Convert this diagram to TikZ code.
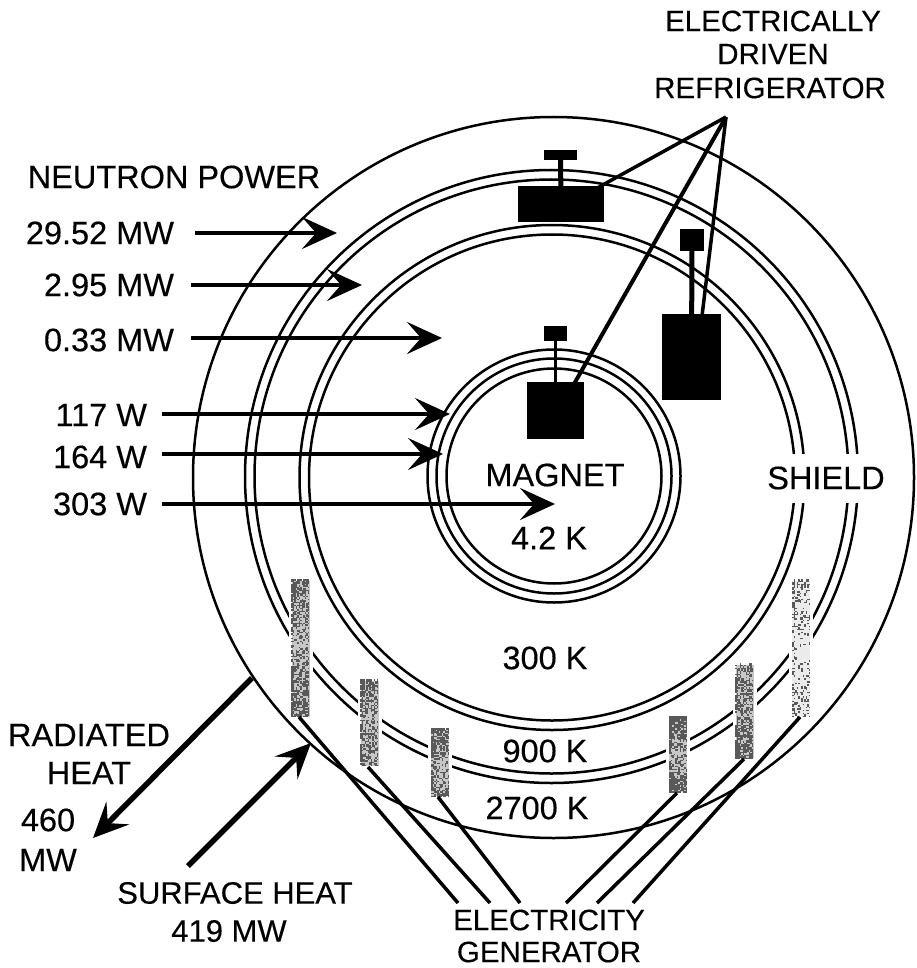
\documentclass[tikz,border=0pt]{standalone}
\usepackage{fontspec}
\setmainfont[FakeBold=0.3]{Liberation Sans}
\usetikzlibrary{arrows.meta}
\tikzset{
  ring/.style={line width=2.5pt,draw=black},
  lab/.style={inner sep=0pt,outer sep=0pt,font=\fontsize{32.5}{36}\selectfont,text=black},
  smalllab/.style={lab,font=\fontsize{29.5}{36}\selectfont},
  midlab/.style={lab,font=\fontsize{31}{36}\selectfont},
  solid box/.style={fill=black,draw=none,inner sep=0pt,outer sep=0pt},
  stem/.style={line width=5pt},
  thin stem/.style={line width=3.5pt},
  lead/.style={line width=3.5pt},
  genline/.style={line width=3.5pt},
  bar/.style={draw=white,line width=3pt,fill=black!22,inner sep=0pt,outer sep=0pt,minimum width=21pt},
  flow/.style={line width=4.2pt,-{Stealth[length=35pt,width=32pt,inset=14pt]}},
}
% halftone texture: x0,y0,width,height,dark top,dark middle,dark bottom
\newcommand{\halftone}[7]{%
  \pgfmathtruncatemacro{\nx}{int(#3/1.5)-1}%
  \pgfmathtruncatemacro{\ny}{int(#4/1.5)-1}%
  \foreach \ci in {0,...,\nx}{%
    \foreach \cj in {0,...,\ny}{%
      \pgfmathsetmacro{\tt}{\cj/\ny}%
      \pgfmathsetmacro{\pp}{(\tt<0.5?(#5+(#6-#5)*2*\tt):(#6+(#7-#6)*(2*\tt-1)))+((\ci<2)?0.25:0)}%
      \pgfmathparse{rnd<\pp?1:0}%
      \ifnum\pgfmathresult=1\relax
        \fill[black!65] ({#1+1.5*\ci},{#2+1.5*\cj}) rectangle ++(1.5,1.5);
      \fi
    }%
  }%
}
\begin{document}
\begin{tikzpicture}[x=1pt,y=-1pt]
\pgfmathsetseed{4711}
\useasboundingbox (0,0) rectangle (917,968);
% rings
\draw[ring] (553.5,477.5) circle[radius=360.5];
\draw[ring] (551.5,476.5) circle[radius=306.5];
\draw[ring] (551.5,476.5) circle[radius=297];
\draw[ring] (552,477.5) circle[radius=252.5];
\draw[ring] (552,477.5) circle[radius=243];
\draw[ring] (554,476) circle[radius=126.5];
\draw[ring] (554,476) circle[radius=117.5];
\draw[ring] (554,476) circle[radius=107.5];
% generator bars
\node[bar,minimum height=139pt] (b1) at (300.5,648.5) {};
\node[bar,minimum height=88pt] (b2) at (369.5,723) {};
\node[bar,minimum height=69pt] (b3) at (440,762.5) {};
\node[bar,minimum height=77pt] (b4) at (678,754.5) {};
\node[bar,minimum height=96pt] (b5) at (744.5,711) {};
\node[bar,fill=black!8,minimum height=138pt] (b6) at (801,648) {};
\halftone{291}{579}{19}{139}{0.7}{0.4}{0.7}
\halftone{360}{679}{19}{88}{0.7}{0.35}{0.55}
\halftone{431}{728}{18}{69}{0.75}{0.35}{0.6}
\halftone{669}{716}{18}{77}{0.95}{0.35}{0.85}
\halftone{735}{663}{19}{96}{0.55}{0.45}{0.85}
\halftone{792}{579}{18}{138}{0.4}{0.1}{0.3}
% generator leads
\coordinate (g1) at (458,903);
\coordinate (g2) at (490,903);
\coordinate (g3) at (520,903);
\coordinate (g4) at (566,903);
\coordinate (g5) at (597,903);
\coordinate (g6) at (633,903);
\draw[genline] (299,717) -- (g1);
\draw[genline] (368,767) -- (g2);
\draw[genline] (438,797) -- (g3);
\draw[genline] (677,793) -- (g4);
\draw[genline] (744,759) -- (g5);
\draw[genline] (800,717) -- (g6);
% refrigerators
\node[solid box,minimum width=86pt,minimum height=36pt] (f1) at (561,204) {};
\node[solid box,minimum width=33pt,minimum height=10pt] (s1) at (560.5,155) {};
\node[solid box,minimum width=59pt,minimum height=86pt] (f2) at (691.5,357) {};
\node[solid box,minimum width=24pt,minimum height=22pt] (s2) at (692,240) {};
\node[solid box,minimum width=57pt,minimum height=57pt] (f3) at (555.5,410.5) {};
\node[solid box,minimum width=23pt,minimum height=15pt] (s3) at (555.5,333.5) {};
\draw[stem] (s1) -- (f1);
\draw[stem] (s2) -- (f2);
\draw[thin stem] (s3) -- (f3);
\coordinate (apex) at (726,117);
\coordinate (t1) at (599,187);
\coordinate (t2) at (702,316);
\coordinate (t3) at (574,384);
\draw[lead] (apex) -- (t1);
\draw[lead] (apex) -- (t2);
\draw[lead,line width=4pt] (apex) -- (t3);
% labels
\node[lab] (np) at (174,177) {NEUTRON POWER};
\node[lab,anchor=east] (l1) at (174,233) {29.52 MW};
\node[lab,anchor=east] (l2) at (174,285) {2.95 MW};
\node[lab,anchor=east] (l3) at (174,340) {0.33 MW};
\node[lab,anchor=east] (l4) at (147,415) {117 W};
\node[lab,anchor=east] (l5) at (147,457) {164 W};
\node[lab,anchor=east] (l6) at (147,504) {303 W};
% arrows
\coordinate (a1) at (195,233); \coordinate (e1) at (337,233);
\coordinate (a2) at (191,285); \coordinate (e2) at (362,285);
\coordinate (a3) at (191,338); \coordinate (e3) at (442,338);
\coordinate (a4) at (162,414); \coordinate (e4) at (450,414);
\coordinate (a5) at (162,454); \coordinate (e5) at (443,454);
\coordinate (a6) at (162,504); \coordinate (e6) at (555,504);
\coordinate (a7) at (252,678); \coordinate (e7) at (93,838);
\coordinate (a8) at (188,866); \coordinate (e8) at (311,743);
\draw[flow] (a1) -- (e1);
\draw[flow] (a2) -- (e2);
\draw[flow] (a3) -- (e3);
\draw[flow,line width=3.2pt] (a4) -- (e4);
\draw[flow,line width=3.2pt] (a5) -- (e5);
\draw[flow] (a6) -- (e6);
\draw[flow,line width=5.5pt] (a7) -- (e7);
\draw[flow,line width=5.5pt] (a8) -- (e8);
\node[lab] (m) at (555,475) {MAGNET};
\node[lab] (m2) at (549,538) {4.2 K};
\node[lab] (t300) at (545,658) {300 K};
\node[lab] (t900) at (545,751) {900 K};
\node[lab] (t2700) at (537,808) {2700 K};
\node[lab,fill=white,minimum height=49pt,minimum width=119pt] (sh) at (826,478) {SHIELD};
\node[smalllab] (e1a) at (773,21) {ELECTRICALLY};
\node[smalllab] (e1b) at (773,54) {DRIVEN};
\node[smalllab] (e1c) at (770,88) {REFRIGERATOR};
\node[lab] (r1) at (89,735) {RADIATED};
\node[lab] (r2) at (89,773) {HEAT};
\node[lab] (r3) at (48,820) {460};
\node[lab] (r4) at (48,860) {MW};
\node[midlab] (sf1) at (235,893) {SURFACE HEAT};
\node[midlab] (sf2) at (229,931) {419 MW};
\node[smalllab] (g1t) at (549,920) {ELECTRICITY};
\node[smalllab] (g2t) at (549,952) {GENERATOR};
\end{tikzpicture}
\end{document}
